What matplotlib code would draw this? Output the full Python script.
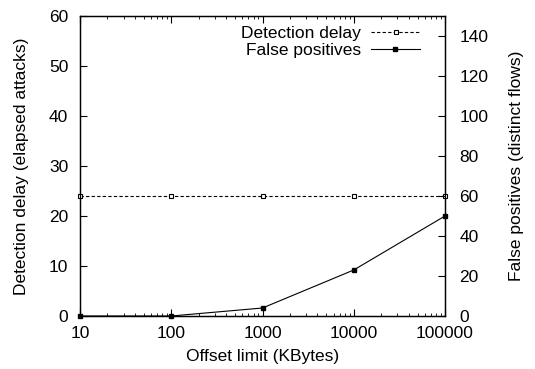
import matplotlib
matplotlib.use("Agg")
import matplotlib.pyplot as plt
from matplotlib.ticker import LogLocator, NullFormatter, FixedLocator

plt.rcParams['font.family'] = ['Liberation Sans', 'DejaVu Sans']

offsets = [10, 100, 1000, 10000, 100000]
detection_delay = [24, 24, 24, 24, 24]
false_positives = [0, 0, 4, 23, 50]
x_ticks = [10, 100, 1000, 10000, 100000]
x_labels = ["10", "100", "1000", "10000", "100000"]
left_ticks = [0, 10, 20, 30, 40, 50, 60]
right_ticks = [0, 20, 40, 60, 80, 100, 120, 140]

FS = 12.5
fig = plt.figure(figsize=(5.35, 3.69), dpi=100)
ax = fig.add_axes([80/535, 1-316/369, 365/535, 300/369])
ax2 = ax.twinx()

l1, = ax.plot(offsets, detection_delay, color='black', linestyle=(0, (3, 2)), lw=0.8,
              marker='s', markersize=3.5, markerfacecolor='white', markeredgewidth=0.8,
              label='Detection delay', clip_on=False, zorder=3)
l2, = ax2.plot(offsets, false_positives, color='black', linestyle='-', lw=0.8,
               marker='s', markersize=3.5, markerfacecolor='black',
               label='False positives', clip_on=False, zorder=3)

ax.set_xscale('log')
ax.set_xlim(10, 100000)
ax.set_ylim(0, 60)
ax2.set_ylim(0, 150)
ax.xaxis.set_major_locator(FixedLocator(x_ticks))
ax.set_xticklabels(x_labels)
ax.xaxis.set_minor_locator(LogLocator(base=10, subs=range(2, 10)))
ax.xaxis.set_minor_formatter(NullFormatter())
ax.set_yticks(left_ticks)
ax2.set_yticks(right_ticks)

ax.tick_params(axis='x', which='major', direction='in', length=5, top=True, labelsize=FS, pad=7)
ax.tick_params(axis='x', which='minor', direction='in', length=2.5, top=True)
ax.tick_params(axis='y', which='major', direction='in', length=5, labelsize=FS, right=False, pad=8.5)
ax2.tick_params(axis='y', which='major', direction='in', length=5, labelsize=FS, pad=10.5)

for a in (ax, ax2):
    for s in a.spines.values():
        s.set_linewidth(0.9)

ax.set_xlabel('Offset limit (KBytes)', fontsize=FS, labelpad=6)
ax.set_ylabel('Detection delay (elapsed attacks)', fontsize=FS, labelpad=14)
ax2.set_ylabel('False positives (distinct flows)', fontsize=FS, labelpad=15)

leg = ax.legend(handles=[l1, l2], loc='upper right', markerfirst=False, frameon=False,
                fontsize=FS, handlelength=2.8, borderaxespad=0.0, labelspacing=0.1,
                handletextpad=0.6, bbox_to_anchor=(0.95, 0.99))
for t in leg.get_texts():
    t.set_ha('right')

fig.savefig('out.png', dpi=100)
